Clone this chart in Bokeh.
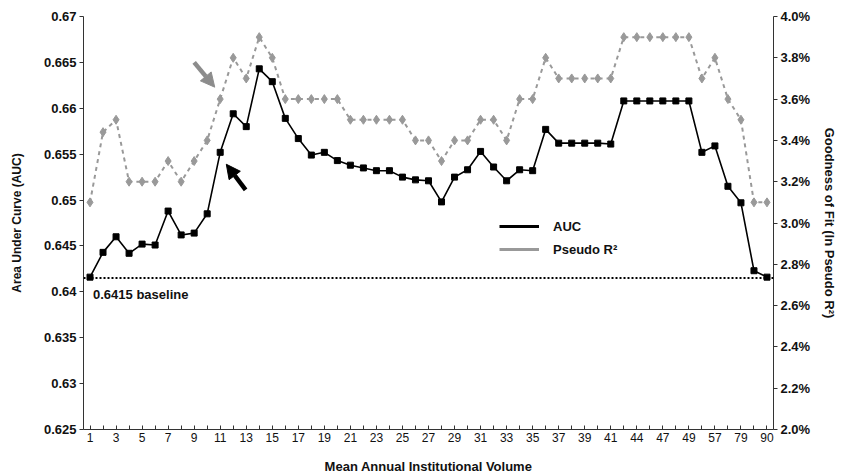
from bokeh.plotting import figure
from bokeh.models import (Range1d, LinearAxis, FixedTicker, CustomJSTickFormatter,
                          PrintfTickFormatter, Legend, LegendItem, Arrow, NormalHead,
                          Span, Label, ColumnDataSource)
from bokeh.embed import file_html
from bokeh.resources import INLINE

# ---- data ----
volume = ["1", "2", "3", "4", "5", "6", "7", "8", "9", "10",
          "11", "12", "13", "14", "15", "16", "17", "18", "19", "20",
          "21", "22", "23", "24", "25", "26", "27", "28", "29", "30",
          "31", "32", "33", "34", "35", "36", "37", "38", "39", "40",
          "41", "42", "44", "45", "47", "48", "49", "53", "57", "67",
          "79", "84", "90"]
auc = [0.6416, 0.6443, 0.6460, 0.6442, 0.6452, 0.6451, 0.6488, 0.6462, 0.6464, 0.6485,
       0.6552, 0.6594, 0.6580, 0.6643, 0.6629, 0.6589, 0.6567, 0.6549, 0.6552, 0.6543,
       0.6538, 0.6535, 0.6532, 0.6532, 0.6525, 0.6522, 0.6521, 0.6498, 0.6525, 0.6533,
       0.6553, 0.6536, 0.6521, 0.6533, 0.6532, 0.6577, 0.6562, 0.6562, 0.6562, 0.6562,
       0.6561, 0.6608, 0.6608, 0.6608, 0.6608, 0.6608, 0.6608, 0.6552, 0.6559, 0.6515,
       0.6497, 0.6423, 0.6416]
pseudo_r2 = [3.10, 3.44, 3.50, 3.20, 3.20, 3.20, 3.30, 3.20, 3.30, 3.40,
             3.60, 3.80, 3.70, 3.90, 3.80, 3.60, 3.60, 3.60, 3.60, 3.60,
             3.50, 3.50, 3.50, 3.50, 3.50, 3.40, 3.40, 3.30, 3.40, 3.40,
             3.50, 3.50, 3.40, 3.60, 3.60, 3.80, 3.70, 3.70, 3.70, 3.70,
             3.70, 3.90, 3.90, 3.90, 3.90, 3.90, 3.90, 3.70, 3.80, 3.60,
             3.50, 3.10, 3.10]
baseline = 0.6415
auc_ticks = [0.625, 0.63, 0.635, 0.64, 0.645, 0.65, 0.655, 0.66, 0.665, 0.67]
r2_ticks = [2.0, 2.2, 2.4, 2.6, 2.8, 3.0, 3.2, 3.4, 3.6, 3.8, 4.0]

idx = list(range(len(volume)))
src = ColumnDataSource(dict(x=idx, auc=auc, r2=pseudo_r2))

FONT = "Liberation Sans"
INK = "#111111"
GREY = "#999999"

p = figure(width=844, height=476, output_backend="svg", toolbar_location=None,
           x_range=Range1d(-0.5, len(volume) - 0.5), y_range=Range1d(0.625, 0.67),
           min_border_left=83, min_border_right=71, min_border_top=16, min_border_bottom=46)
p.extra_y_ranges = {"r2": Range1d(2.0, 4.0)}
p.grid.visible = False
p.outline_line_color = None
p.background_fill_color = "white"

def style_axis(ax):
    ax.minor_tick_line_color = None
    ax.axis_line_color = "#333333"
    ax.major_tick_line_color = "#333333"
    ax.major_label_text_font = FONT
    ax.major_label_text_color = INK
    ax.axis_label_text_font = FONT
    ax.axis_label_text_font_style = "bold"
    ax.axis_label_text_color = INK

# x axis
xa = p.xaxis[0]
style_axis(xa)
xa.ticker = FixedTicker(ticks=idx)
xa.major_label_overrides = {i: (v if i % 2 == 0 else "") for i, v in enumerate(volume)}
xa.major_tick_in = 4
xa.major_tick_out = 0
xa.major_label_text_font_size = "12px"
xa.major_label_standoff = 3
xa.axis_label = "Mean Annual Institutional Volume"
xa.axis_label_text_font_size = "13px"
xa.axis_label_standoff = 14

# left axis
ya = p.yaxis[0]
style_axis(ya)
ya.ticker = FixedTicker(ticks=auc_ticks)
ya.formatter = CustomJSTickFormatter(code="return String(+tick.toFixed(4));")
ya.major_tick_in = 0
ya.major_tick_out = 4
ya.major_label_text_font_style = "bold"
ya.major_label_text_font_size = "13px"
ya.major_label_standoff = 3
ya.axis_label = "Area Under Curve (AUC)"
ya.axis_label_text_font_size = "12px"
ya.axis_label_standoff = 17

# right axis
ra = LinearAxis(y_range_name="r2", ticker=FixedTicker(ticks=r2_ticks),
                formatter=PrintfTickFormatter(format="%.1f%%"))
style_axis(ra)
ra.major_tick_in = 0
ra.major_tick_out = 4
ra.major_label_text_font_style = "bold"
ra.major_label_text_font_size = "13px"
ra.major_label_standoff = 3
ra.axis_label = "Goodness of Fit (In Pseudo R²)"
ra.axis_label_text_font_size = "13px"
ra.axis_label_standoff = 9
p.add_layout(ra, "right")

# baseline
p.add_layout(Span(location=baseline, dimension="width", line_color="black",
                  line_width=2, line_dash="2 2"))
p.add_layout(Label(x=0, y=baseline, text=f"{baseline} baseline", text_font=FONT,
                   text_font_style="bold", text_font_size="13px", x_offset=3,
                   y_offset=-9, text_baseline="top", text_color=INK))

# series
p.line("x", "r2", source=src, y_range_name="r2", line_color=GREY,
       line_width=2, line_dash="4 4")
p.scatter("x", "r2", source=src, y_range_name="r2", marker="diamond", size=9,
          fill_color=GREY, line_color=GREY)
p.line("x", "auc", source=src, line_color="black", line_width=1.6)
p.scatter("x", "auc", source=src, marker="square", size=6, fill_color="black",
          line_color="black")

# legend proxies (solid lines, no visible data)
nan = float("nan")
leg_auc = p.line(x=[nan], y=[nan], line_color="black", line_width=3)
leg_r2 = p.line(x=[nan], y=[nan], line_color=GREY, line_width=3)
legend = Legend(items=[LegendItem(label="AUC", renderers=[leg_auc]),
                       LegendItem(label="Pseudo R²", renderers=[leg_r2])],
                location=(416, 170), border_line_color=None, background_fill_alpha=0,
                label_text_font=FONT, label_text_font_style="bold",
                label_text_font_size="13px", label_text_color=INK,
                glyph_width=40, spacing=3, label_standoff=14)
p.add_layout(legend)

# arrows pointing at the 11th category
k = 10
p.add_layout(Arrow(x_start=k - 2.0, y_start=0.6650, x_end=k - 0.42, y_end=0.6623,
                   line_color="#8c8c8c", line_width=4.5,
                   end=NormalHead(size=14, fill_color="#8c8c8c", line_color="#8c8c8c")))
p.add_layout(Arrow(x_start=k + 1.95, y_start=0.6511, x_end=k + 0.47, y_end=0.6539,
                   line_color="black", line_width=4.5,
                   end=NormalHead(size=14, fill_color="black", line_color="black")))

open("out.html", "w").write(file_html(p, INLINE))
